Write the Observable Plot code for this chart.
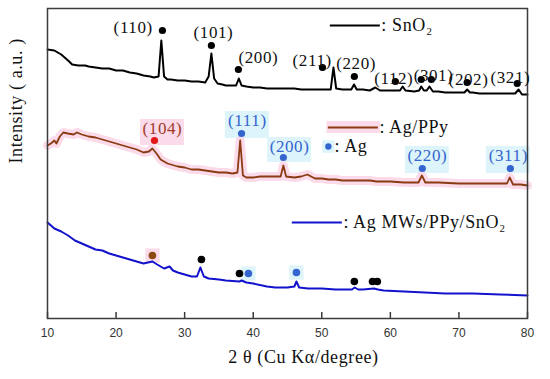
<!DOCTYPE html>
<html>
<head>
<meta charset="utf-8">
<script src="https://cdn.jsdelivr.net/npm/d3@7"></script>
<script src="https://cdn.jsdelivr.net/npm/@observablehq/plot@0.6"></script>
<style>
  html, body { margin: 0; padding: 0; background: #fff; }
  #chart svg { display: block; }
  g[aria-label="text"] text { letter-spacing: 0.6px; }
</style>
</head>
<body>
<div id="chart"></div>
<script>
// ---------- axis ----------
const xTicks = [10, 20, 30, 40, 50, 60, 70, 80];
const xTitle = "2 θ (Cu Kα/degree)";
const yTitle = "Intensity ( a.u. )";

// ---------- SnO2 (black) ----------
const sno2Theta = [10, 11, 12, 13, 13.6, 14.5, 15.5, 16, 17, 18, 19, 20, 21, 22, 23, 24, 25, 25.5, 26.2, 26.6, 27.0, 27.5, 28, 29, 30, 31, 32, 33.0, 33.5, 33.9, 34.3, 34.8, 35.5, 36, 37, 37.5, 37.9, 38.3, 39, 40, 41, 42, 43, 44, 45, 46, 47, 48, 49, 50, 51.3, 51.7, 52.1, 53, 54.3, 54.7, 55.1, 56, 57, 57.8, 58.5, 59, 60, 61.4, 61.8, 62.2, 63.5, 64.2, 64.5, 64.9, 65.3, 65.7, 66.2, 67, 68, 69, 70, 70.8, 71.2, 71.6, 72, 73, 74, 75, 76, 77, 78.2, 78.7, 79.2, 80];
const sno2Int   = [269, 268, 264, 258, 254, 253, 253, 252, 251, 250, 250, 248, 248, 246, 245, 243, 242, 241, 242, 278, 242, 239, 239, 238, 238, 237, 237, 236, 242, 265, 240, 235, 234, 233, 233, 233, 240, 233, 232, 231, 231, 230, 230, 230, 230, 230, 229, 229, 229, 229, 229, 251, 230, 229, 229, 234, 229, 229, 228, 231, 228, 228, 228, 228, 232, 228, 227, 228, 232, 228, 228, 232, 227, 227, 226, 226, 226, 226, 229, 226, 226, 225, 225, 225, 225, 225, 225, 229, 224, 224];

// ---------- Ag/PPy (brown) ----------
const agppyTheta = [10, 10.5, 11, 11.3, 11.8, 12.3, 13, 13.8, 14.3, 15, 16, 17, 18, 19, 20, 21, 22, 23, 24, 24.8, 25.3, 25.9, 26.5, 27.5, 28, 29, 30, 31, 32, 33, 34, 35, 36, 37, 37.7, 38.1, 38.5, 39, 40, 41, 42, 43, 44.0, 44.4, 44.8, 46, 47, 47.9, 49, 50, 51, 52, 53, 55, 57, 58, 60, 62, 64.1, 64.6, 65.1, 67, 70, 73, 75, 77.0, 77.4, 77.9, 79, 80];
const agppyInt   = [173, 175, 178, 175, 182, 186, 185, 184, 186, 184, 182, 181, 179, 177, 175, 173, 171, 169, 166, 167, 170, 165, 159, 155, 154, 152, 151, 149, 149, 148, 147, 146, 146, 145, 146, 178, 143, 141, 141, 142, 142, 142, 142, 153, 142, 141, 142, 144, 140, 140, 139, 139, 138, 138, 138, 137, 137, 136, 136, 143, 136, 136, 135, 135, 135, 135, 141, 134, 134, 133];

// ---------- Ag MWs/PPy/SnO2 (blue) ----------
const compTheta = [10, 11, 12, 13, 14, 15, 16, 17, 18, 19, 20, 21, 22, 23, 24, 25.3, 26, 27, 27.8, 28.3, 29, 30, 31, 31.8, 32.3, 32.8, 33.5, 35, 36, 38, 38.3, 39, 40, 42, 43.2, 45, 46.0, 46.3, 46.7, 48, 50, 52, 54.4, 54.8, 55.3, 56, 57.6, 58.2, 59, 62, 65, 68, 72, 76, 80];
const compInt   = [96, 90, 87, 83, 78, 75, 72, 69, 68, 65, 63, 61, 59, 57, 55, 57, 54, 50, 52, 48, 46, 44, 42, 42, 51, 42, 40, 39, 38, 37, 38, 36, 35, 32, 31, 31, 32, 37, 31, 30, 30, 29, 29, 31, 29, 29, 30, 29, 28, 27, 26, 25, 25, 24, 23];

// ---------- peak annotations ----------
const sno2Labels = ["(110)", "(101)", "(200)", "(211)", "(220)", "(112)", "(301)", "(202)", "(321)"];
const sno2LabelTheta = [22.5, 34.2, 40.75, 48.6, 55.0, 60.5, 66.3, 71.4, 77.5];
const sno2LabelInt = [291, 286, 261, 258, 255, 240, 243, 239, 241];
const sno2DotTheta = [26.76, 33.9, 37.84, 50.1, 54.75, 60.73, 64.5, 65.98, 71.2, 78.5];
const sno2DotInt = [288, 273, 249, 251, 242, 237, 239, 239, 236, 235];

const agLabels = ["(111)", "(200)", "(220)", "(311)"];
const agLabelTheta = [39.15, 45.3, 65.4, 77.2];
const agLabelInt = [198, 172, 163, 163];
const agDotTheta = [38.3, 44.4, 64.66, 77.5];
const agDotInt = [185, 161, 150, 150];

const ppyLabel = "(104)";
const ppyLabelTheta = 26.76, ppyLabelInt = 190;
const ppyDotTheta = 25.6, ppyDotInt = 178;

// composite markers
const compBlackTheta = [32.45, 38.0, 54.75, 57.4, 58.1];
const compBlackInt = [59, 45, 37, 37, 37];
const compAgTheta = [39.3, 46.3];
const compAgInt = [45, 46];
const compPpyTheta = [25.3];
const compPpyInt = [63];

// ---------- legend ----------
const legendNames = [": SnO₂", ": Ag/PPy", ": Ag MWs/PPy/SnO₂"];
const legendX1 = [51.25, 50.96, 45.7];
const legendX2 = [58.54, 58.25, 53.0];
const legendInt = [293, 191, 96];
const agKeyText = ": Ag";
const agKeyTheta = 50.96, agKeyInt = 172;

// ---------- build tables ----------
const zip = (t, v) => t.map((x, i) => ({x, y: v[i]}));
const sno2 = zip(sno2Theta, sno2Int);
const agppy = zip(agppyTheta, agppyInt);
const comp = zip(compTheta, compInt);

const BLACK = "#000", BROWN = "#8a3b12", BLUE = "#1212cc", AGBLUE = "#3565cf", RED = "#e01818", PINK = "#fbdaea", CYAN = "#dcf4fa";
const serif = "Liberation Serif, Times New Roman, serif";

const chart = Plot.plot({
  width: 550,
  height: 379,
  marginLeft: 47,
  marginRight: 23,
  marginTop: 8,
  marginBottom: 61,
  x: {domain: [10, 80], label: null},
  y: {domain: [0, 310], axis: null},
  marks: [
    // highlight backgrounds
    Plot.rect(agLabels.map((d, i) => i), {x1: i => agLabelTheta[i] - 3.2, x2: i => agLabelTheta[i] + 3.2, y1: i => agDotInt[i] - 5, y2: i => agLabelInt[i] + 9, fill: CYAN}),
    Plot.rect([0], {x1: ppyLabelTheta - 3.2, x2: ppyLabelTheta + 3.2, y1: ppyDotInt - 5, y2: ppyLabelInt + 9, fill: PINK}),
    Plot.rect([0], {x1: legendX1[1] - 0.2, x2: legendX2[1] + 0.3, y1: legendInt[1] - 6, y2: legendInt[1] + 6, fill: PINK}),
    Plot.dot([0], {x: agKeyTheta, y: agKeyInt, r: 7, symbol: "square", fill: CYAN}),
    Plot.dot(compAgTheta.map((d, i) => i), {x: i => compAgTheta[i], y: i => compAgInt[i], r: 8, symbol: "square", fill: CYAN}),
    Plot.dot(compPpyTheta.map((d, i) => i), {x: i => compPpyTheta[i], y: i => compPpyInt[i], r: 8, symbol: "square", fill: PINK}),

    // curves
    Plot.line(agppy, {x: "x", y: "y", stroke: PINK, strokeWidth: 9}),
    Plot.line(sno2, {x: "x", y: "y", stroke: BLACK, strokeWidth: 2}),
    Plot.line(agppy, {x: "x", y: "y", stroke: BROWN, strokeWidth: 1.8}),
    Plot.line(comp, {x: "x", y: "y", stroke: BLUE, strokeWidth: 2}),

    // frame and ticks
    Plot.frame({stroke: "#3c3c3c", strokeWidth: 1.5}),
    Plot.ruleX(xTicks, {x: d => d, y1: 0, y2: 6, stroke: "#3c3c3c", strokeWidth: 1.5}),
    Plot.axisX(xTicks, {tickSize: 0, tickPadding: 10, fontSize: 12, fontFamily: "Liberation Sans, Arial, sans-serif", fill: "#333", label: null}),

    // axis titles
    Plot.text([xTitle], {frameAnchor: "bottom", dy: 44, dx: 16, fontSize: 18, fontFamily: serif, fill: "#111"}),
    Plot.text([yTitle], {frameAnchor: "left", dx: -31, rotate: -90, fontSize: 18, fontFamily: serif, fill: "#111"}),

    // SnO2 annotations
    Plot.dot(sno2DotTheta.map((d, i) => i), {x: i => sno2DotTheta[i], y: i => sno2DotInt[i], r: 3.6, fill: BLACK}),
    Plot.text(sno2Labels, {x: (d, i) => sno2LabelTheta[i], y: (d, i) => sno2LabelInt[i], text: d => d, fontSize: 17, fontFamily: serif, fill: "#111"}),

    // Ag annotations
    Plot.dot(agDotTheta.map((d, i) => i), {x: i => agDotTheta[i], y: i => agDotInt[i], r: 3.6, fill: AGBLUE}),
    Plot.text(agLabels, {x: (d, i) => agLabelTheta[i], y: (d, i) => agLabelInt[i], text: d => d, fontSize: 17, fontFamily: serif, fill: AGBLUE}),
    Plot.dot([0], {x: ppyDotTheta, y: ppyDotInt, r: 3.6, fill: RED}),
    Plot.text([ppyLabel], {x: ppyLabelTheta, y: ppyLabelInt, fontSize: 17, fontFamily: serif, fill: "#a03a28"}),

    // composite markers
    Plot.dot(compBlackTheta.map((d, i) => i), {x: i => compBlackTheta[i], y: i => compBlackInt[i], r: 3.8, fill: BLACK}),
    Plot.dot(compAgTheta.map((d, i) => i), {x: i => compAgTheta[i], y: i => compAgInt[i], r: 3.8, fill: AGBLUE}),
    Plot.dot(compPpyTheta.map((d, i) => i), {x: i => compPpyTheta[i], y: i => compPpyInt[i], r: 3.8, fill: "#8b4a12"}),

    // legend
    Plot.ruleY([0], {x1: legendX1[0], x2: legendX2[0], y: legendInt[0], stroke: BLACK, strokeWidth: 2.2}),
    Plot.ruleY([0], {x1: legendX1[1], x2: legendX2[1], y: legendInt[1], stroke: BROWN, strokeWidth: 2.2}),
    Plot.ruleY([0], {x1: legendX1[2], x2: legendX2[2], y: legendInt[2], stroke: BLUE, strokeWidth: 2.2}),
    Plot.text(legendNames, {x: (d, i) => legendX2[i] + 0.15, y: (d, i) => legendInt[i], text: d => d, textAnchor: "start", fontSize: 18, fontFamily: serif, fill: "#111"}),
    Plot.dot([0], {x: agKeyTheta, y: agKeyInt, r: 3.2, fill: AGBLUE}),
    Plot.text([agKeyText], {x: agKeyTheta + 0.9, y: agKeyInt, textAnchor: "start", fontSize: 18, fontFamily: serif, fill: "#111"})
  ]
});
document.getElementById("chart").appendChild(chart);
</script>
</body>
</html>
